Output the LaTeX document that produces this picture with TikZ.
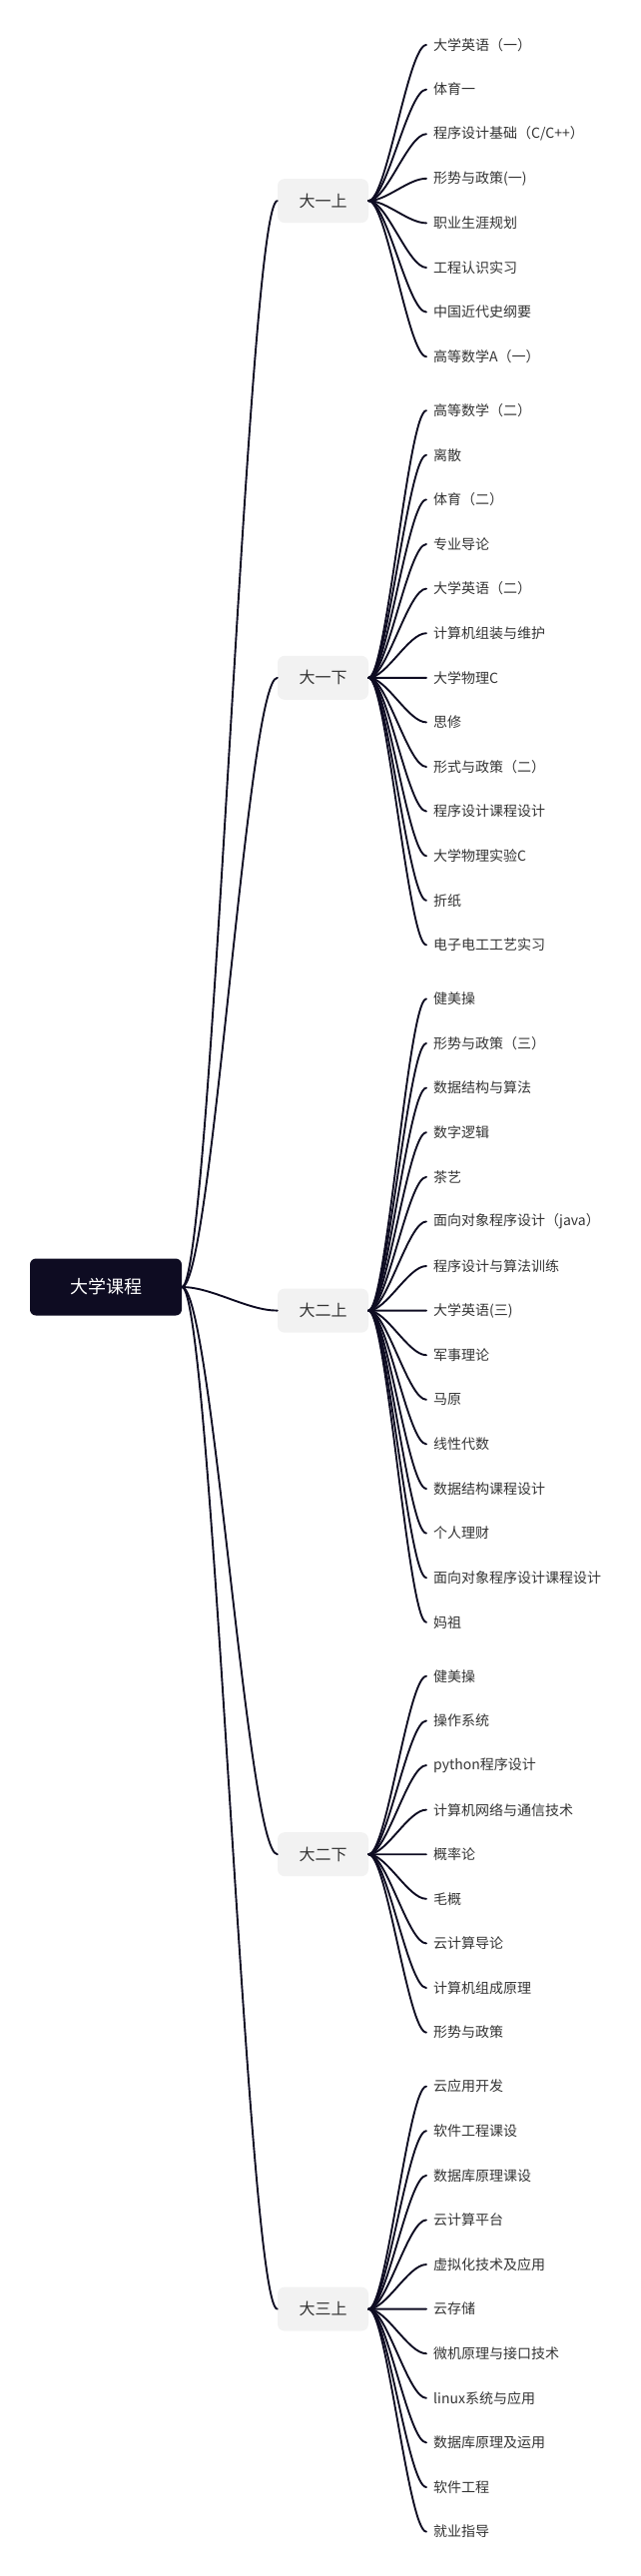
\documentclass[tikz,border=0pt]{standalone}
\usepackage{fontspec}
\setmainfont{Noto Sans CJK SC}
\definecolor{ink}{HTML}{0E0C22}
\definecolor{termfill}{HTML}{F2F2F2}
\definecolor{txt}{HTML}{333333}
\tikzset{
  rootbox/.style={fill=ink,text=white,rounded corners=6pt,minimum width=152pt,minimum height=57pt,inner sep=0pt,font=\fontsize{18}{20}\selectfont},
  term/.style={fill=termfill,text=txt,rounded corners=7pt,minimum width=91pt,minimum height=44pt,inner sep=0pt,font=\fontsize{16}{18}\selectfont},
  course/.style={anchor=west,inner xsep=7pt,inner ysep=0pt,text=txt,font=\fontsize{14}{16}\selectfont},
  trunk/.style={draw=ink,line width=1.9pt,line cap=round,to path={.. controls +(30,0) and +(-30,0) .. (\tikztotarget)}},
  link/.style={draw=ink,line width=1.9pt,line cap=round,to path={.. controls +(18,0) and +(-18,0) .. (\tikztotarget)}}
}
\begin{document}
\begin{tikzpicture}[x=1pt,y=-1pt]
    \useasboundingbox (0,0) rectangle (641,2580);
    % root and terms
    \node[rootbox] (root) at (106,1289) {大学课程};
    \node[term] (t1) at (323.5,201.1) {大一上};
    \node[term] (t2) at (323.5,678.8) {大一下};
    \node[term] (t3) at (323.5,1312.6) {大二上};
    \node[term] (t4) at (323.5,1857.2) {大二下};
    \node[term] (t5) at (323.5,2312.6) {大三上};
    % courses, first term
    \node[course] (c11) at (427,45) {大学英语（一）};
    \node[course] (c12) at ([yshift=-44.6pt]c11.west) {体育一};
    \node[course] (c13) at ([yshift=-44.6pt]c12.west) {程序设计基础（C/C++）};
    \node[course] (c14) at ([yshift=-44.6pt]c13.west) {形势与政策(一)};
    \node[course] (c15) at ([yshift=-44.6pt]c14.west) {职业生涯规划};
    \node[course] (c16) at ([yshift=-44.6pt]c15.west) {工程认识实习};
    \node[course] (c17) at ([yshift=-44.6pt]c16.west) {中国近代史纲要};
    \node[course] (c18) at ([yshift=-44.6pt]c17.west) {高等数学A（一）};
    % second term
    \node[course] (c21) at ([yshift=-54pt]c18.west) {高等数学（二）};
    \node[course] (c22) at ([yshift=-44.6pt]c21.west) {离散};
    \node[course] (c23) at ([yshift=-44.6pt]c22.west) {体育（二）};
    \node[course] (c24) at ([yshift=-44.6pt]c23.west) {专业导论};
    \node[course] (c25) at ([yshift=-44.6pt]c24.west) {大学英语（二）};
    \node[course] (c26) at ([yshift=-44.6pt]c25.west) {计算机组装与维护};
    \node[course] (c27) at ([yshift=-44.6pt]c26.west) {大学物理C};
    \node[course] (c28) at ([yshift=-44.6pt]c27.west) {思修};
    \node[course] (c29) at ([yshift=-44.6pt]c28.west) {形式与政策（二）};
    \node[course] (c2a) at ([yshift=-44.6pt]c29.west) {程序设计课程设计};
    \node[course] (c2b) at ([yshift=-44.6pt]c2a.west) {大学物理实验C};
    \node[course] (c2c) at ([yshift=-44.6pt]c2b.west) {折纸};
    \node[course] (c2d) at ([yshift=-44.6pt]c2c.west) {电子电工工艺实习};
    % third term
    \node[course] (c31) at ([yshift=-54pt]c2d.west) {健美操};
    \node[course] (c32) at ([yshift=-44.6pt]c31.west) {形势与政策（三）};
    \node[course] (c33) at ([yshift=-44.6pt]c32.west) {数据结构与算法};
    \node[course] (c34) at ([yshift=-44.6pt]c33.west) {数字逻辑};
    \node[course] (c35) at ([yshift=-44.6pt]c34.west) {茶艺};
    \node[course] (c36) at ([yshift=-44.6pt]c35.west) {面向对象程序设计（java）};
    \node[course] (c37) at ([yshift=-44.6pt]c36.west) {程序设计与算法训练};
    \node[course] (c38) at ([yshift=-44.6pt]c37.west) {大学英语(三)};
    \node[course] (c39) at ([yshift=-44.6pt]c38.west) {军事理论};
    \node[course] (c3a) at ([yshift=-44.6pt]c39.west) {马原};
    \node[course] (c3b) at ([yshift=-44.6pt]c3a.west) {线性代数};
    \node[course] (c3c) at ([yshift=-44.6pt]c3b.west) {数据结构课程设计};
    \node[course] (c3d) at ([yshift=-44.6pt]c3c.west) {个人理财};
    \node[course] (c3e) at ([yshift=-44.6pt]c3d.west) {面向对象程序设计课程设计};
    \node[course] (c3f) at ([yshift=-44.6pt]c3e.west) {妈祖};
    % fourth term
    \node[course] (c41) at ([yshift=-54pt]c3f.west) {健美操};
    \node[course] (c42) at ([yshift=-44.6pt]c41.west) {操作系统};
    \node[course] (c43) at ([yshift=-44.6pt]c42.west) {python程序设计};
    \node[course] (c44) at ([yshift=-44.6pt]c43.west) {计算机网络与通信技术};
    \node[course] (c45) at ([yshift=-44.6pt]c44.west) {概率论};
    \node[course] (c46) at ([yshift=-44.6pt]c45.west) {毛概};
    \node[course] (c47) at ([yshift=-44.6pt]c46.west) {云计算导论};
    \node[course] (c48) at ([yshift=-44.6pt]c47.west) {计算机组成原理};
    \node[course] (c49) at ([yshift=-44.6pt]c48.west) {形势与政策};
    % fifth term
    \node[course] (c51) at ([yshift=-54pt]c49.west) {云应用开发};
    \node[course] (c52) at ([yshift=-44.6pt]c51.west) {软件工程课设};
    \node[course] (c53) at ([yshift=-44.6pt]c52.west) {数据库原理课设};
    \node[course] (c54) at ([yshift=-44.6pt]c53.west) {云计算平台};
    \node[course] (c55) at ([yshift=-44.6pt]c54.west) {虚拟化技术及应用};
    \node[course] (c56) at ([yshift=-44.6pt]c55.west) {云存储};
    \node[course] (c57) at ([yshift=-44.6pt]c56.west) {微机原理与接口技术};
    \node[course] (c58) at ([yshift=-44.6pt]c57.west) {linux系统与应用};
    \node[course] (c59) at ([yshift=-44.6pt]c58.west) {数据库原理及运用};
    \node[course] (c5a) at ([yshift=-44.6pt]c59.west) {软件工程};
    \node[course] (c5b) at ([yshift=-44.6pt]c5a.west) {就业指导};
    % connectors
    \path (root.east) edge[trunk] (t1.west) edge[trunk] (t2.west) edge[trunk] (t3.west)
                      edge[trunk] (t4.west) edge[trunk] (t5.west);
    \path (t1.east) edge[link] (c11.west) edge[link] (c12.west) edge[link] (c13.west) edge[link] (c14.west)
                    edge[link] (c15.west) edge[link] (c16.west) edge[link] (c17.west) edge[link] (c18.west);
    \path (t2.east) edge[link] (c21.west) edge[link] (c22.west) edge[link] (c23.west) edge[link] (c24.west)
                    edge[link] (c25.west) edge[link] (c26.west) edge[link] (c27.west) edge[link] (c28.west)
                    edge[link] (c29.west) edge[link] (c2a.west) edge[link] (c2b.west) edge[link] (c2c.west)
                    edge[link] (c2d.west);
    \path (t3.east) edge[link] (c31.west) edge[link] (c32.west) edge[link] (c33.west) edge[link] (c34.west)
                    edge[link] (c35.west) edge[link] (c36.west) edge[link] (c37.west) edge[link] (c38.west)
                    edge[link] (c39.west) edge[link] (c3a.west) edge[link] (c3b.west) edge[link] (c3c.west)
                    edge[link] (c3d.west) edge[link] (c3e.west) edge[link] (c3f.west);
    \path (t4.east) edge[link] (c41.west) edge[link] (c42.west) edge[link] (c43.west) edge[link] (c44.west)
                    edge[link] (c45.west) edge[link] (c46.west) edge[link] (c47.west) edge[link] (c48.west)
                    edge[link] (c49.west);
    \path (t5.east) edge[link] (c51.west) edge[link] (c52.west) edge[link] (c53.west) edge[link] (c54.west)
                    edge[link] (c55.west) edge[link] (c56.west) edge[link] (c57.west) edge[link] (c58.west)
                    edge[link] (c59.west) edge[link] (c5a.west) edge[link] (c5b.west);
\end{tikzpicture}
\end{document}
